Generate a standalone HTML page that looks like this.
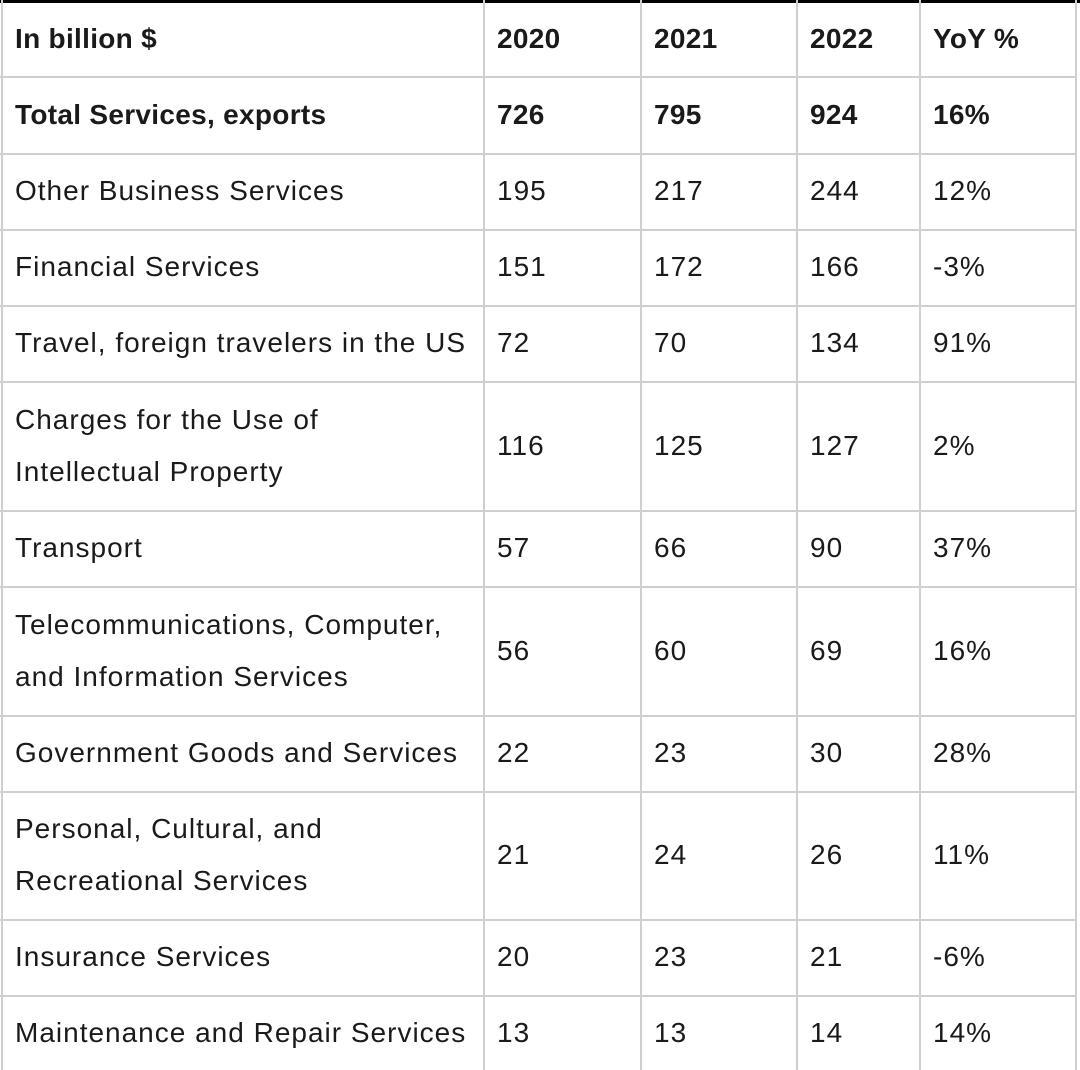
<!DOCTYPE html>
<html><head><meta charset="utf-8">
<style>
html,body{margin:0;padding:0;background:#fff;}
#t{position:relative;width:1080px;height:1070px;overflow:hidden;font-family:"Liberation Sans",sans-serif;color:#1a1a1a;font-size:28px;letter-spacing:1px;}
.c{position:absolute;display:flex;align-items:center;box-sizing:border-box;line-height:52px;white-space:nowrap;}
.b{font-weight:bold;letter-spacing:0.3px;}
.vl{position:absolute;top:0;width:2px;height:1070px;background:#cfcfcf;}
.hl{position:absolute;left:0;width:1077px;height:2px;background:#cfcfcf;}
</style></head><body>
<div id="t">
<div style="position:absolute;left:0;top:0;width:1080px;height:3px;background:#000"></div>
</div>
<script>
const rows=[
["In billion $","2020","2021","2022","YoY %"],
["Total Services, exports","726","795","924","16%"],
["Other Business Services","195","217","244","12%"],
["Financial Services","151","172","166","-3%"],
["Travel, foreign travelers in the US","72","70","134","91%"],
["Charges for the Use of<br>Intellectual Property","116","125","127","2%"],
["Transport","57","66","90","37%"],
["Telecommunications, Computer,<br>and Information Services","56","60","69","16%"],
["Government Goods and Services","22","23","30","28%"],
["Personal, Cultural, and<br>Recreational Services","21","24","26","11%"],
["Insurance Services","20","23","21","-6%"],
["Maintenance and Repair Services","13","13","14","14%"]];
const ys=[2,76,153,229,305,381,510,586,715,791,919,995,1070];
const xs=[1,483,640,796,919,1075];
const t=document.getElementById('t');
xs.forEach(x=>{const d=document.createElement('div');d.className='vl';d.style.left=x+'px';

t.appendChild(d);});
ys.slice(1,-1).forEach(y=>{const d=document.createElement('div');d.className='hl';d.style.top=y+'px';

t.appendChild(d);});
rows.forEach((r,i)=>{r.forEach((v,j)=>{const d=document.createElement('div');
d.className='c'+(i<2?' b':'');
d.style.left=(xs[j]+14)+'px';d.style.top=ys[i]+'px';d.style.height=(ys[i+1]-ys[i])+'px';
d.style.width=(xs[j+1]-xs[j]-14)+'px';d.innerHTML=v;

t.appendChild(d);});});
</script>
</body></html>
